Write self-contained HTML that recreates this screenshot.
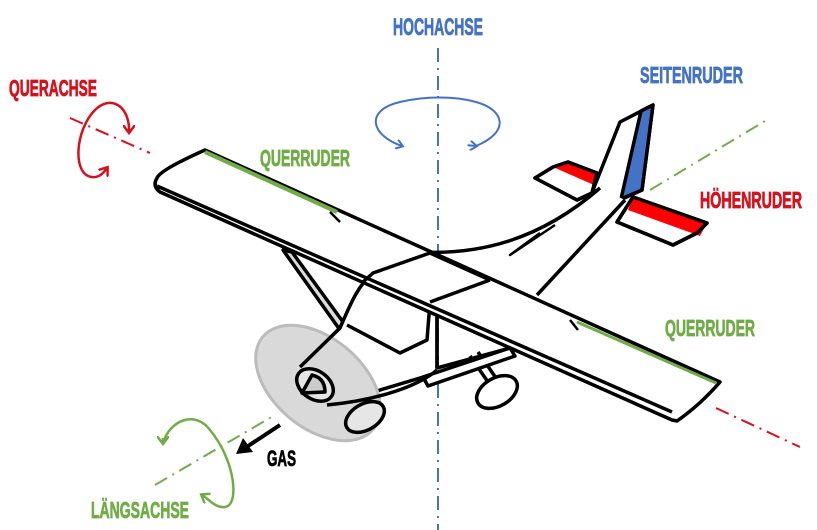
<!DOCTYPE html>
<html><head><meta charset="utf-8"><style>
html,body{margin:0;padding:0;background:#fff;}
svg{display:block;}
text{font-family:"Liberation Sans Narrow","Liberation Sans",sans-serif;font-weight:bold;stroke-width:0.8;}
</style></head><body>
<svg width="817" height="530" viewBox="0 0 817 530" xmlns="http://www.w3.org/2000/svg">
<defs>
<marker id="ab" markerWidth="10" markerHeight="10" refX="6" refY="5" orient="auto" markerUnits="userSpaceOnUse"><path d="M0,0 L7,5 L0,10" fill="none" stroke="#4472c4" stroke-width="2"/></marker>
<marker id="ar" markerWidth="12" markerHeight="12" refX="7" refY="6" orient="auto" markerUnits="userSpaceOnUse"><path d="M0,0 L8,6 L0,12" fill="none" stroke="#d9101c" stroke-width="2.5"/></marker>
<marker id="ag" markerWidth="12" markerHeight="12" refX="7" refY="6" orient="auto" markerUnits="userSpaceOnUse"><path d="M0,0 L8,6 L0,12" fill="none" stroke="#70ad47" stroke-width="2.5"/></marker>
</defs>

<line x1="438" y1="48" x2="438" y2="530" stroke="#4472c4" stroke-width="2" stroke-dasharray="14,6,2,6"/>
<line x1="70" y1="118" x2="150" y2="153" stroke="#d9101c" stroke-width="2" stroke-dasharray="14,6,2,6"/>
<line x1="716" y1="408" x2="800" y2="447" stroke="#d9101c" stroke-width="2" stroke-dasharray="14,6,2,6"/>
<line x1="650" y1="190" x2="770" y2="118" stroke="#70ad47" stroke-width="2" stroke-dasharray="14,6,2,6"/>
<line x1="155" y1="485" x2="275" y2="415" stroke="#70ad47" stroke-width="2" stroke-dasharray="14,6,2,6"/>

<path d="M476,146 C510,132 505,110 476,102 C455,96 425,96 400,102 C365,110 370,135 402,146" fill="none" stroke="#4472c4" stroke-width="2" marker-end="url(#ab)"/>
<path d="M470,140 L476,146" fill="none" stroke="#4472c4" stroke-width="2" marker-end="url(#ab)" transform="rotate(-40 476 146)"/>
<path d="M129,128 C128,105 110,95 95,110 C75,130 72,175 92,177 C100,178 104,172 107,168" fill="none" stroke="#d9101c" stroke-width="2.5" marker-end="url(#ar)"/>
<path d="M129,128 L129,132" fill="none" stroke="#d9101c" stroke-width="2.5" marker-end="url(#ar)"/>
<path d="M163,443 C170,420 195,410 210,430 C235,460 240,505 225,507 C215,508 210,500 202,495" fill="none" stroke="#70ad47" stroke-width="2.5" marker-end="url(#ag)"/>
<path d="M163,438 L163,443" fill="none" stroke="#70ad47" stroke-width="2.5" marker-end="url(#ag)"/>

<line x1="280" y1="425" x2="245" y2="448" stroke="#000" stroke-width="4"/>
<path d="M236,454 L243,438 L253,452 Z" fill="#000"/>

<g stroke="#000" stroke-width="3.5" stroke-linejoin="round" fill="#fff">
<path d="M535,178 L553,167 L568,162 L597,173 L592,193 L577,200 Z"/>
<path d="M553,167 L568,162 L597,173 L594,185 Z" fill="#ff0000" stroke="none"/>
<path d="M535,178 L553,167 L568,162 L597,173 L592,193 L577,200 Z" fill="none"/>
<path d="M633,197 L707,223 L697,233 L673,245 L617,222 Z"/>
<path d="M633,197 L707,223 L700,236 L628,210 Z" fill="#ff0000" stroke="none"/>
<path d="M633,197 L707,223 L697,233 L673,245 L617,222 Z" fill="none"/>
<path d="M620,122 L653,105 L642,190 L620,200 L593,190 Z"/>
<path d="M641,111 L653,105 L642,190 L621,199 Z" fill="#4472c4"/>
<path d="M420,252 C480,255 540,240 600,188 L625,200 L537,295 Z" stroke="none"/>
<path d="M420,252 C480,255 540,240 600,188" fill="none"/>
<path d="M625,200 L537,295" fill="none"/>
<path d="M540,233 L510,255 L555,225" fill="none" stroke-width="2.5"/>
<path d="M283,250 L340,330 L346,326 L292,252 Z" fill="#ddd"/>
<path d="M373,273 L430,253 L490,280 L470,300 L437,317 L437,368 L510,348 L480,362 L430,375 L330,405 L300,367 L340,328 C350,305 358,285 373,273 Z"/>
<path d="M347,325 L400,353 L427,340 L430,302" fill="none"/>
<path d="M437,317 L437,368" fill="none"/>
<path d="M470,356 L488,382 M478,352 L496,378" fill="none"/>
<path d="M423,377 L510,348 L515,356 L428,386 Z"/>
<ellipse cx="497" cy="392" rx="22" ry="14" transform="rotate(-30 497 392)"/>
<path d="M157,178 Q160,170 205,150 L720,382 Q700,405 677,421 L672,420 L160,192 Q152,186 157,178 Z"/>
<path d="M157,186 L672,412" fill="none"/>
<line x1="205" y1="152" x2="337" y2="212" stroke="#70ad47" stroke-width="4"/>
<line x1="577" y1="322" x2="716" y2="383" stroke="#70ad47" stroke-width="3"/>
<path d="M330,212 L340,222 M570,320 L578,330" fill="none" stroke-width="2.5"/>
<path d="M363,282 L373,273 L430,253 M430,302 L490,280" fill="none"/>
<path d="M430,253 L490,280" fill="none"/>
<ellipse cx="318" cy="383" rx="72" ry="45" transform="rotate(40 318 383)" fill="#d9d9d9" stroke="#bbb" stroke-width="3"/>
<path d="M340,328 L300,367 M327,405 C380,400 420,385 437,370" fill="none"/>
<ellipse cx="315" cy="385" rx="20" ry="14" transform="rotate(35 315 385)" fill="#e6e6e6"/>
<path d="M302,393 L312,375 Q325,378 325,392 Z" fill="#ccc"/>
<ellipse cx="365" cy="417" rx="21" ry="13" transform="rotate(-30 365 417)" fill="#e6e6e6"/>
</g>

<text x="393" y="35" font-size="24" fill="#4472c4" stroke="#4472c4" textLength="90" lengthAdjust="spacingAndGlyphs">HOCHACHSE</text>
<text x="9" y="96" font-size="23" fill="#d9101c" stroke="#d9101c" textLength="88" lengthAdjust="spacingAndGlyphs">QUERACHSE</text>
<text x="640" y="83" font-size="23" fill="#4472c4" stroke="#4472c4" textLength="103" lengthAdjust="spacingAndGlyphs">SEITENRUDER</text>
<text x="700" y="208" font-size="23" fill="#d9101c" stroke="#d9101c" textLength="102" lengthAdjust="spacingAndGlyphs">HÖHENRUDER</text>
<text x="260" y="166" font-size="23" fill="#70ad47" stroke="#70ad47" textLength="90" lengthAdjust="spacingAndGlyphs">QUERRUDER</text>
<text x="665" y="336" font-size="23" fill="#70ad47" stroke="#70ad47" textLength="90" lengthAdjust="spacingAndGlyphs">QUERRUDER</text>
<text x="91" y="518" font-size="23" fill="#70ad47" stroke="#70ad47" textLength="98" lengthAdjust="spacingAndGlyphs">LÄNGSACHSE</text>
<text x="267" y="466" font-size="22" fill="#000" stroke="#000" textLength="29" lengthAdjust="spacingAndGlyphs">GAS</text>
</svg>
</body></html>
